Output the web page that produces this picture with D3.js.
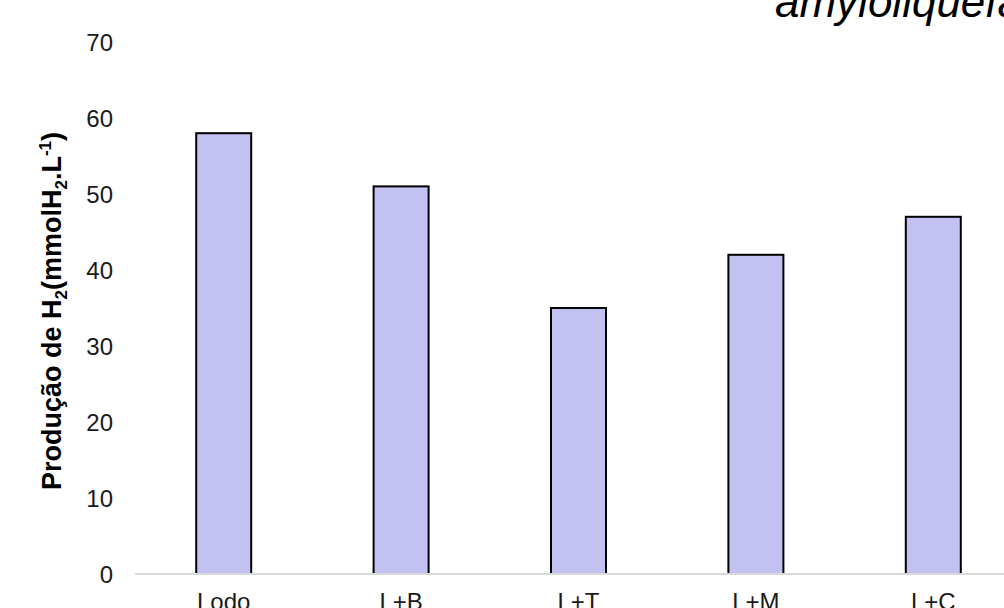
<!DOCTYPE html>
<html>
<head>
<meta charset="utf-8">
<script src="https://cdn.jsdelivr.net/npm/d3@7"></script>
<style>
  body { margin: 0; background: #fff; }
  svg { display: block; font-family: "Liberation Sans", Arial, sans-serif; }
</style>
</head>
<body>
<div id="chart"></div>
<script>
const categories = ["Lodo", "L+B", "L+T", "L+M", "L+C"]
const values = [58, 51, 35, 42, 47]
const yTicks = [0, 10, 20, 30, 40, 50, 60, 70]

const width = 1004, height = 608

const x = d3.scaleBand()
    .domain(categories)
    .range([135, 1022])
    .paddingInner(0.69)
    .paddingOuter(0.345)

const y = d3.scaleLinear()
    .domain([0, 70])
    .range([574, 42])

const svg = d3.create("svg")
    .attr("width", width)
    .attr("height", height)
    .attr("viewBox", [0, 0, width, height])

// title, cut off by the top edge of the picture
svg.append("text")
    .attr("x", 775)
    .attr("y", 17)
    .attr("font-size", 44)
    .attr("font-style", "italic")
    .attr("fill", "#000")
    .text("amyloliquefaciens")

// bars
svg.append("g")
  .selectAll("rect")
  .data(values)
  .join("rect")
    .attr("x", (d, i) => x(categories[i]))
    .attr("y", d => y(d))
    .attr("width", x.bandwidth())
    .attr("height", d => y(0) - y(d))
    .attr("fill", "#c3c0f2")
    .attr("stroke", "#000")
    .attr("stroke-width", 2)

// baseline
svg.append("line")
    .attr("x1", 135)
    .attr("x2", width)
    .attr("y1", y(0))
    .attr("y2", y(0))
    .attr("stroke", "#d9d9d9")
    .attr("stroke-width", 2)

// y tick labels
svg.append("g")
  .selectAll("text")
  .data(yTicks)
  .join("text")
    .attr("x", 113)
    .attr("y", d => y(d))
    .attr("dy", "0.36em")
    .attr("text-anchor", "end")
    .attr("font-size", 24)
    .attr("fill", "#1a1a1a")
    .text(d => d)

// x labels
svg.append("g")
  .selectAll("text")
  .data(categories)
  .join("text")
    .attr("x", d => x(d) + x.bandwidth() / 2)
    .attr("y", 610)
    .attr("text-anchor", "middle")
    .attr("font-size", 24)
    .attr("fill", "#1a1a1a")
    .text(d => d)

// y axis title
const yTitle = svg.append("text")
    .attr("transform", "translate(61,311) rotate(-90)")
    .attr("text-anchor", "middle")
    .attr("font-size", 27)
    .attr("font-weight", "bold")
    .attr("fill", "#000")
yTitle.append("tspan").text("Produção de H")
yTitle.append("tspan").attr("font-size", 17).attr("dy", 6).text("2")
yTitle.append("tspan").attr("dy", -6).text("(mmolH")
yTitle.append("tspan").attr("font-size", 17).attr("dy", 6).text("2")
yTitle.append("tspan").attr("dy", -6).text(".L")
yTitle.append("tspan").attr("font-size", 17).attr("dy", -10).text("-1")
yTitle.append("tspan").attr("dy", 10).text(")")

d3.select("#chart").node().appendChild(svg.node())
</script>
</body>
</html>
